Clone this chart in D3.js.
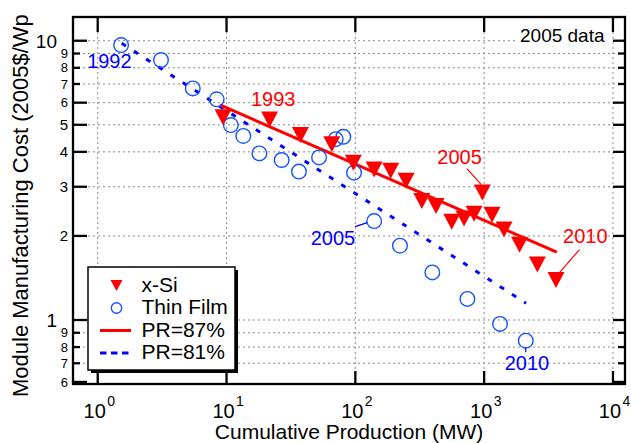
<!DOCTYPE html>
<html>
<head>
<meta charset="utf-8">
<script src="https://cdn.jsdelivr.net/npm/d3@7"></script>
<style>
body { margin: 0; background: #fff; }
svg { display: block; font-family: "Liberation Sans", Arial, Helvetica, sans-serif; }
</style>
</head>
<body>
<div id="chart"></div>
<script>
// x-Si modules, 1992..2010 (cumulative MW, 2005$/Wp)
var siProduction = [9.39, 21.6, 37.5, 65.6, 96.5, 140, 188, 248, 328, 423, 560, 698, 835, 968, 1151, 1427, 1883, 2588, 3614];
var siCost = [5.32, 5.22, 4.60, 4.26, 3.66, 3.46, 3.42, 3.15, 2.67, 2.56, 2.25, 2.31, 2.40, 2.86, 2.38, 2.11, 1.86, 1.58, 1.39];

// thin film modules
var tfProduction = [1.52, 3.10, 5.47, 8.39, 10.8, 13.5, 18.0, 26.8, 36.5, 52.3, 70.4, 80.7, 97.7, 140, 222, 396, 741, 1328, 2103];
var tfCost = [9.65, 8.53, 6.75, 6.17, 4.99, 4.56, 3.95, 3.74, 3.40, 3.82, 4.44, 4.53, 3.37, 2.26, 1.845, 1.48, 1.19, 0.968, 0.843];

// learning curve fits, end points
var fit87Production = [8.9, 3662];
var fit87Cost = [5.89, 1.75];
var fit81Production = [1.536, 2115];
var fit81Cost = [9.79, 1.148];

var xTicks = [1, 10, 100, 1000, 10000];
var xTickExponents = ['0', '1', '2', '3', '4'];
var yTicks = [0.6, 0.7, 0.8, 0.9, 1, 2, 3, 4, 5, 6, 7, 8, 9, 10];
var yTickLabels = ['6', '7', '8', '9', '1', '2', '3', '4', '5', '6', '7', '8', '9', '10'];
var yGrid = [0.7, 0.8, 0.9, 1, 2, 3, 4, 5, 6, 7, 8, 9, 10];

var legendLabels = ['x-Si', 'Thin Film', 'PR=87%', 'PR=81%'];

(function() {
    var width = 631, height = 443;
    var pLeft = 73, pRight = 625, pTop = 17, pBottom = 384;
    var red = '#ff0000', blue = '#0000ff', circleBlue = '#1455ff';

    var svg = d3.select('#chart').append('svg')
        .attr('width', width)
        .attr('height', height);

    var x = d3.scaleLog().domain([0.643, 12400]).range([pLeft, pRight]);
    var y = d3.scaleLog().domain([0.59, 12.16]).range([pBottom, pTop]);

    var tri = function(w, h) {
        return 'M' + (-w / 2) + ',' + (-h / 2) + 'L' + (w / 2) + ',' + (-h / 2) + 'L0,' + (h / 2) + 'Z';
    };

    // grid
    svg.append('g').selectAll('line').data(yGrid).enter().append('line')
        .attr('x1', pLeft).attr('x2', pRight)
        .attr('y1', function(d) { return y(d); })
        .attr('y2', function(d) { return y(d); })
        .attr('stroke', '#8a8a8a').attr('stroke-width', 1).attr('stroke-dasharray', '2,3');
    svg.append('g').selectAll('line').data(xTicks).enter().append('line')
        .attr('y1', pTop).attr('y2', pBottom)
        .attr('x1', function(d) { return x(d); })
        .attr('x2', function(d) { return x(d); })
        .attr('stroke', '#8a8a8a').attr('stroke-width', 1).attr('stroke-dasharray', '2,3');

    // "2005 data" note with white backing
    svg.append('rect').attr('x', 517).attr('y', 21).attr('width', 94).attr('height', 24).attr('fill', '#fff');
    svg.append('text').attr('x', 520).attr('y', 42).attr('font-size', 19).text('2005 data');

    // fit lines
    var line = d3.line()
        .x(function(d) { return x(d[0]); })
        .y(function(d) { return y(d[1]); });

    svg.append('path')
        .datum(d3.zip(fit81Production, fit81Cost))
        .attr('d', line)
        .attr('fill', 'none').attr('stroke', blue).attr('stroke-width', 3)
        .attr('stroke-dasharray', '5,9.5');

    svg.append('path')
        .datum(d3.zip(fit87Production, fit87Cost))
        .attr('d', line)
        .attr('fill', 'none').attr('stroke', red).attr('stroke-width', 3);

    // markers
    svg.append('g').selectAll('circle').data(d3.zip(tfProduction, tfCost)).enter().append('circle')
        .attr('cx', function(d) { return x(d[0]); })
        .attr('cy', function(d) { return y(d[1]); })
        .attr('r', 7.3)
        .attr('fill', 'none').attr('stroke', circleBlue).attr('stroke-width', 1.4);

    svg.append('g').selectAll('path').data(d3.zip(siProduction, siCost)).enter().append('path')
        .attr('d', tri(17, 16))
        .attr('transform', function(d) { return 'translate(' + x(d[0]) + ',' + y(d[1]) + ')'; })
        .attr('fill', red);

    // annotations, placed relative to their data point
    var notes = [
        { text: '1992', color: blue, px: tfProduction[0], py: tfCost[0], tx: -34, ty: 23, anchor: 'start' },
        { text: '1993', color: red, px: siProduction[0], py: siCost[0], tx: 28, ty: -11, anchor: 'start' },
        { text: '2005', color: red, px: siProduction[13], py: siCost[13], tx: -45, ty: -29, anchor: 'start', l: [-15.5, -24, -1, -8] },
        { text: '2010', color: red, px: siProduction[18], py: siCost[18], tx: 7, ty: -37, anchor: 'start', l: [23.5, -30.5, 3, -7] },
        { text: '2005', color: blue, px: tfProduction[13], py: tfCost[13], tx: -19, ty: 24, anchor: 'end', l: [-19, 5.5, -7, 1.5] },
        { text: '2010', color: blue, px: tfProduction[18], py: tfCost[18], tx: -21, ty: 29.5, anchor: 'start', l: [0, 6.5, 0, 11.5] }
    ];

    notes.forEach(function(n) {
        var cx = x(n.px), cy = y(n.py);
        if (n.l) {
            svg.append('line')
                .attr('x1', cx + n.l[0]).attr('y1', cy + n.l[1])
                .attr('x2', cx + n.l[2]).attr('y2', cy + n.l[3])
                .attr('stroke', n.color).attr('stroke-width', 1.2);
        }
        svg.append('text')
            .attr('x', cx + n.tx).attr('y', cy + n.ty)
            .attr('text-anchor', n.anchor)
            .attr('font-size', 20)
            .attr('fill', n.color)
            .text(n.text);
    });

    // axes frame and ticks
    var ax = svg.append('g').attr('stroke', '#000').attr('stroke-width', 2.3);
    ax.append('rect')
        .attr('x', pLeft).attr('y', pTop)
        .attr('width', pRight - pLeft).attr('height', pBottom - pTop)
        .attr('fill', 'none');

    xTicks.forEach(function(t) {
        var xx = x(t);
        ax.append('line').attr('x1', xx).attr('x2', xx).attr('y1', pBottom).attr('y2', pBottom - 13);
        ax.append('line').attr('x1', xx).attr('x2', xx).attr('y1', pTop).attr('y2', pTop + 15);
    });

    yTicks.forEach(function(t) {
        var yy = y(t);
        var len = (t >= 7 && t <= 9) || (t >= 0.7 && t <= 0.9) ? 7 : 14;
        ax.append('line').attr('x1', pLeft).attr('x2', pLeft + len).attr('y1', yy).attr('y2', yy);
        ax.append('line').attr('x1', pRight).attr('x2', pRight - (len === 14 ? 12 : 7)).attr('y1', yy).attr('y2', yy);
    });

    // y tick labels
    svg.append('g').selectAll('text').data(yTicks).enter().append('text')
        .attr('x', function(d) { return d === 1 || d === 10 ? 57 : 68; })
        .attr('y', function(d) { return y(d); })
        .attr('dy', '0.36em')
        .attr('text-anchor', 'end')
        .attr('font-size', function(d) {
            if (d === 1 || d === 10) return 19;
            if (d >= 2 && d <= 5) return 15;
            return 13;
        })
        .text(function(d, i) { return yTickLabels[i]; });

    // x tick labels, 10^n
    var xl = svg.append('g').selectAll('g').data(xTicks).enter().append('g')
        .attr('transform', function(d) { return 'translate(' + x(d) + ',0)'; });
    xl.append('text')
        .attr('x', -3).attr('y', 418)
        .attr('text-anchor', 'middle')
        .attr('font-size', 20)
        .text('10');
    xl.append('text')
        .attr('x', 9.5).attr('y', 406)
        .attr('font-size', 14)
        .text(function(d, i) { return xTickExponents[i]; });

    // axis titles
    svg.append('text')
        .attr('x', (pLeft + pRight) / 2).attr('y', 439)
        .attr('text-anchor', 'middle')
        .attr('font-size', 21)
        .text('Cumulative Production (MW)');

    svg.append('text')
        .attr('transform', 'translate(28,397) rotate(-90)')
        .attr('font-size', 22)
        .text('Module Manufacturing Cost (2005$/Wp');

    // legend
    var lg = svg.append('g').attr('transform', 'translate(88,267)');
    lg.append('rect').attr('x', 3).attr('y', 3).attr('width', 147).attr('height', 103).attr('fill', '#000');
    lg.append('rect').attr('x', 0).attr('y', 0).attr('width', 147).attr('height', 103)
        .attr('fill', '#fff').attr('stroke', '#000').attr('stroke-width', 1.5);

    var rows = lg.selectAll('g').data(legendLabels).enter().append('g')
        .attr('transform', function(d, i) { return 'translate(0,' + (18.5 + i * 22.5) + ')'; });

    rows.append('text')
        .attr('x', 53.5).attr('y', 6)
        .attr('font-size', 21)
        .text(function(d) { return d; });

    rows.each(function(d, i) {
        var g = d3.select(this);
        if (i === 0) {
            g.append('path').attr('d', tri(12, 11)).attr('transform', 'translate(28.5,0)').attr('fill', red);
        } else if (i === 1) {
            g.append('circle').attr('cx', 28.5).attr('cy', 0).attr('r', 5.2)
                .attr('fill', 'none').attr('stroke', circleBlue).attr('stroke-width', 1.4);
        } else if (i === 2) {
            g.append('line').attr('x1', 12).attr('x2', 43).attr('y1', 0).attr('y2', 0)
                .attr('stroke', red).attr('stroke-width', 3);
        } else {
            g.append('line').attr('x1', 12).attr('x2', 43).attr('y1', 0).attr('y2', 0)
                .attr('stroke', blue).attr('stroke-width', 3).attr('stroke-dasharray', '6.5,4.5');
        }
    });
})();
</script>
</body>
</html>
